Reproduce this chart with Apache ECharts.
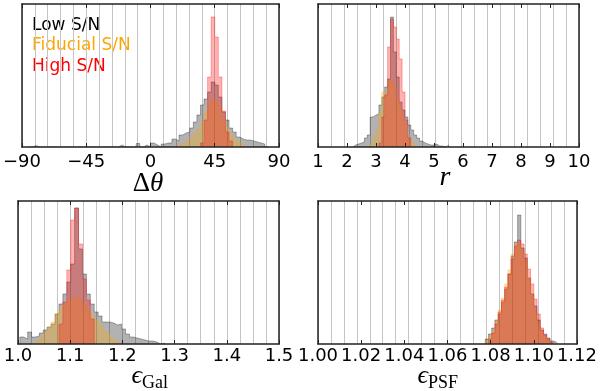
<!DOCTYPE html>
<html>
<head>
<meta charset="utf-8">
<script src="https://cdn.jsdelivr.net/npm/echarts@6/dist/echarts.min.js"></script>
<style>
  html, body { margin: 0; padding: 0; background: #fff; }
  #chart { width: 600px; height: 391px; }
</style>
</head>
<body>
<div id="chart"></div>
<script>
// histogram counts (arbitrary units, panel top = countMax), one array per S/N level
const countMax = 143;

// panel 1: position angle offset, bins of 2.5 deg
const dThetaBin = 2.5;
const dThetaLowFrom = -85;
const dThetaLow = [0, 1.5, 0, 0, 0, 0, 0, 0, 0, 0, 0, 0, 0, 0, 0, 0, 0, 0, 0, 0, 0, 0, 0, 0, 0, 2, 0, 0, 0, 0,
  3.5, 0, 2, 0, 4, 2, 0, 3, 4, 4, 8, 6, 12, 14, 15, 19, 25, 32, 42, 48,
  55, 65, 62, 50, 35, 27, 19, 15, 10, 8, 7, 7, 6, 5, 4, 3, 0];
const dThetaFidFrom = 20;
const dThetaFid = [3, 5, 7, 10, 14, 18, 25, 35, 42, 48, 45, 38, 28, 20, 13, 8, 5, 3];
const dThetaHighFrom = 35;
const dThetaHigh = [4, 27, 70, 130, 110, 70, 36, 15, 6];

// panel 2: axis ratio r, bins of 0.1
const rBin = 0.1;
const rLowFrom = 2.2;
const rLow = [2, 3, 4, 5, 9, 12, 30, 32, 33, 42, 50, 60, 68, 130, 95, 70, 45, 37, 30, 22,
  17, 12, 9, 6, 4, 3, 2, 2, 3, 1, 1, 0, 2];
const rFidFrom = 2.8;
const rFid = [3, 10, 17, 34, 55, 52, 65, 67, 60, 48, 37, 27, 14, 8, 4, 2];
const rHighFrom = 3.1;
const rHigh = [4, 30, 52, 100, 128, 120, 108, 88, 55, 27, 9];

// panel 3: galaxy ellipticity, bins of 0.0075
const eGalBin = 0.0075;
const eGalLowFrom = 1.0035;
const eGalLow = [7, 5, 12, 7, 8, 11, 14, 17, 20, 30, 40, 50, 62, 80, 136, 95, 70, 50, 40, 32,
  28, 22, 22, 21, 19, 20, 15, 10, 7, 6, 5, 4, 3, 3, 2, 0, 1];
const eGalFidFrom = 1.0335;
const eGalFid = [3, 6, 11, 16, 22, 30, 36, 40, 44, 46, 46, 44, 40, 34, 29, 24, 19, 14, 10, 6, 3, 1];
const eGalHighFrom = 1.0785;
const eGalHigh = [20, 42, 74, 124, 136, 100, 65, 44, 25];

// panel 4: PSF ellipticity, bins of 0.0015
const ePsfBin = 0.0015;
const ePsfLowFrom = 1.0775;
const ePsfLow = [5, 10, 16, 24, 30, 42, 55, 70, 88, 102, 129, 96, 86, 66, 50, 38, 24, 14, 10, 6, 3, 2];
const ePsfFidFrom = 1.0775;
const ePsfFid = [3, 7, 12, 22, 34, 46, 60, 74, 90, 100, 98, 94, 82, 66, 50, 34, 20, 12, 7, 3];
const ePsfHighFrom = 1.079;
const ePsfHigh = [5, 11, 20, 32, 44, 57, 70, 85, 98, 104, 100, 90, 75, 60, 45, 30, 16, 9, 5, 2];

const levelNames = ["Low S/N", "Fiducial S/N", "High S/N"];
const levelColors = ["0,0,0", "255,165,0", "255,0,0"];
const legendColors = ["#000000", "#ffa500", "#ff0000"];

const panels = [
  { left: 18, top: 4, min: -90, max: 90, tick: 45, fmt: (v) => String(v).replace("-", "\u2212"),
    hists: [[dThetaLowFrom, dThetaBin, dThetaLow], [dThetaFidFrom, dThetaBin, dThetaFid], [dThetaHighFrom, dThetaBin, dThetaHigh]] },
  { left: 318, top: 4, min: 1, max: 10, tick: 1, fmt: (v) => String(v),
    hists: [[rLowFrom, rBin, rLow], [rFidFrom, rBin, rFid], [rHighFrom, rBin, rHigh]] },
  { left: 18, top: 201, min: 1.0, max: 1.5, tick: 0.1, fmt: (v) => v.toFixed(1),
    hists: [[eGalLowFrom, eGalBin, eGalLow], [eGalFidFrom, eGalBin, eGalFid], [eGalHighFrom, eGalBin, eGalHigh]] },
  { left: 318, top: 201, min: 1.0, max: 1.12, tick: 0.02, fmt: (v) => v.toFixed(2),
    hists: [[ePsfLowFrom, ePsfBin, ePsfLow], [ePsfFidFrom, ePsfBin, ePsfFid], [ePsfHighFrom, ePsfBin, ePsfHigh]] },
];

const plotW = 261;
const plotH = 143;
const frame = { color: "#222", width: 1.5 };

function steps(from, width, counts) {
  const pts = [[from, 0]];
  counts.forEach((c, i) => pts.push([from + i * width, c]));
  pts.push([from + counts.length * width, 0]);
  return pts;
}

const grids = [];
const xAxes = [];
const yAxes = [];
const series = [];

panels.forEach((p, i) => {
  grids.push({ left: p.left, top: p.top, width: plotW, height: plotH });
  const edge = {
    gridIndex: i, type: "value", min: p.min, max: p.max, interval: p.tick, z: 10,
    axisLine: { show: true, onZero: false, lineStyle: frame },
    axisTick: { show: true, inside: true, length: 4, lineStyle: { color: "#222", width: 1 } },
    splitLine: { show: false },
  };
  xAxes.push({
    ...edge, position: "bottom",
    axisLabel: { show: true, fontSize: 18, color: "#000", fontFamily: "DejaVu Sans", margin: i < 2 ? 6 : 3,
      formatter: p.fmt, showMinLabel: true, showMaxLabel: true, hideOverlap: false },
  });
  xAxes.push({ ...edge, position: "top", axisLabel: { show: false } });
  // 20 evenly spaced vertical guide lines
  xAxes.push({
    gridIndex: i, type: "value", min: 0, max: 20, interval: 1, position: "bottom", z: 0,
    axisLine: { show: false }, axisTick: { show: false }, axisLabel: { show: false },
    splitLine: { show: true, lineStyle: { color: "#c4c4c4", width: 1 } },
  });
  const side = {
    gridIndex: i, type: "value", min: 0, max: countMax, z: 10,
    axisLine: { show: true, onZero: false, lineStyle: frame },
    axisTick: { show: false }, axisLabel: { show: false }, splitLine: { show: false },
  };
  yAxes.push({ ...side, position: "left" });
  yAxes.push({ ...side, position: "right" });

  p.hists.forEach(([from, width, counts], k) => {
    series.push({
      name: levelNames[k],
      type: "line",
      step: "end",
      xAxisIndex: 3 * i,
      yAxisIndex: 2 * i,
      symbol: "none",
      silent: true,
      data: steps(from, width, counts),
      lineStyle: { color: `rgba(${levelColors[k]},0.3)`, width: 1 },
      areaStyle: { color: `rgba(${levelColors[k]},0.3)`, opacity: 1 },
      z: 2 + k,
    });
  });
});

const serif = "Liberation Serif, DejaVu Serif, serif";
const graphic = [
  ...levelNames.map((name, k) => ({
    type: "text", left: 32, top: 17 + k * 20.5,
    style: { text: name, fill: legendColors[k], font: "17px DejaVu Sans" },
  })),
  { type: "text", x: 148, y: 184, style: { text: "{a|\u0394}{b|\u03b8}", align: "center", verticalAlign: "middle",
      rich: { a: { fontFamily: serif, fontSize: 27 }, b: { fontFamily: serif, fontSize: 27, fontStyle: "italic" } } } },
  { type: "text", x: 445, y: 178, style: { text: "r", align: "center", verticalAlign: "middle",
      font: "italic 28px " + serif } },
  { type: "text", x: 142, y: 376, style: { text: "\u03f5", align: "right", verticalAlign: "middle", font: "italic 26px " + serif } },
  { type: "text", x: 142, y: 383, style: { text: "Gal", align: "left", verticalAlign: "middle", font: "18px " + serif } },
  { type: "text", x: 428, y: 376, style: { text: "\u03f5", align: "right", verticalAlign: "middle", font: "italic 26px " + serif } },
  { type: "text", x: 428, y: 383, style: { text: "PSF", align: "left", verticalAlign: "middle", font: "18px " + serif } },
];

const chart = echarts.init(document.getElementById("chart"));
chart.setOption({
  animation: false,
  backgroundColor: "#fff",
  grid: grids,
  xAxis: xAxes,
  yAxis: yAxes,
  series,
  graphic,
});
</script>
</body>
</html>
